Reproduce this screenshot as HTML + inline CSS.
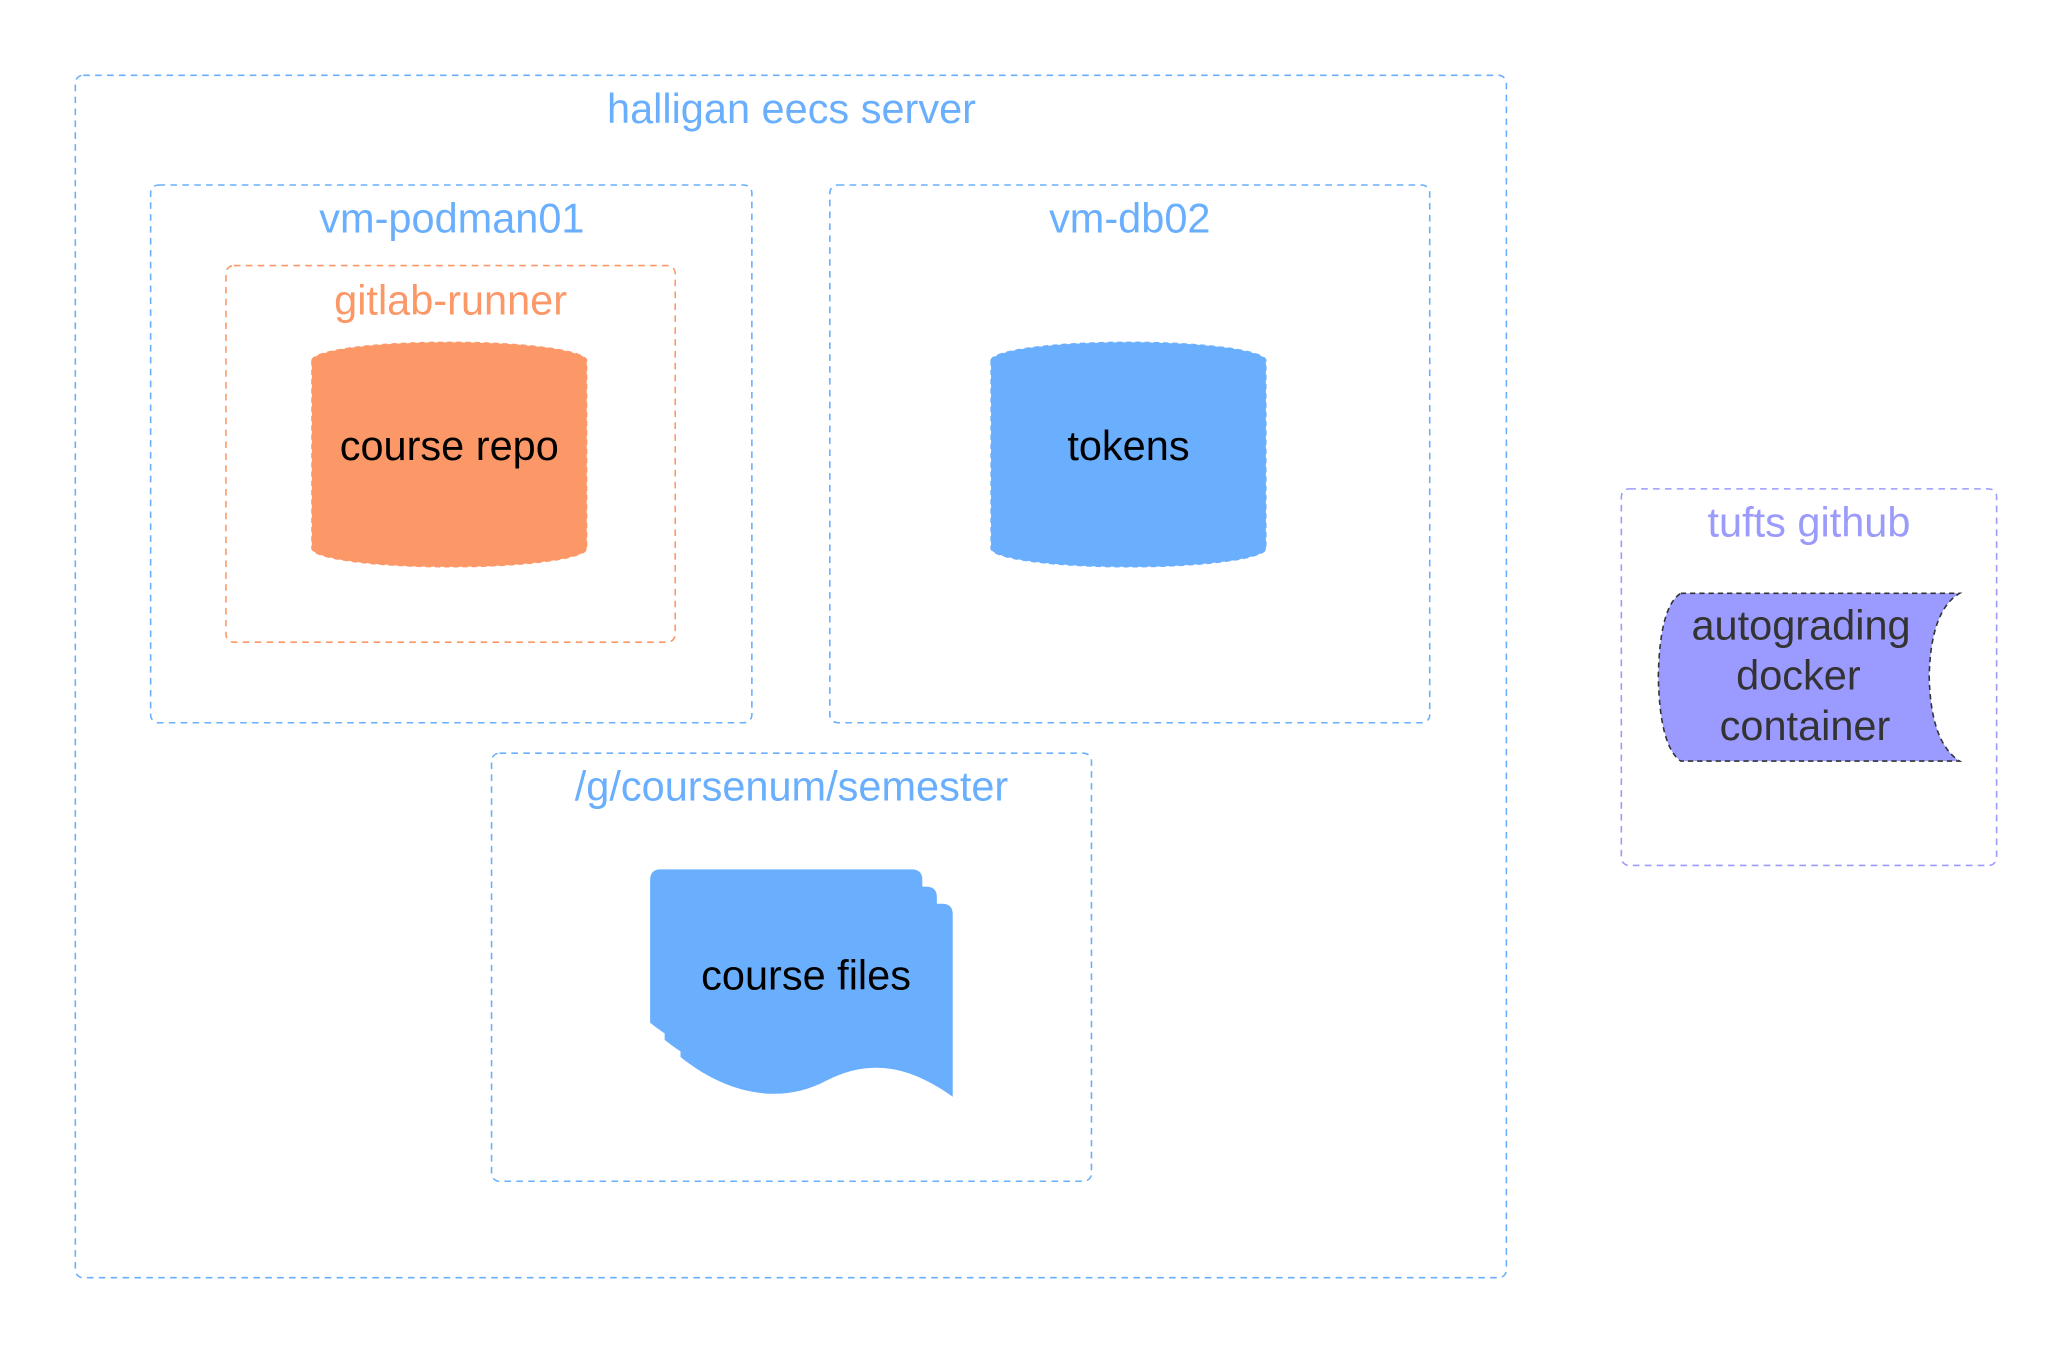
<!DOCTYPE html>
<html><head><meta charset="utf-8"><style>
html,body{margin:0;padding:0;background:#fff;}
svg{display:block;}
text{font-family:"Liberation Sans",Arial,sans-serif;}
</style></head><body>
<svg width="2064" height="1350" viewBox="0 0 1562 1021.7" preserveAspectRatio="none" xmlns="http://www.w3.org/2000/svg">
<g fill="none" stroke-width="1.2" stroke-dasharray="5 4">
<rect x="57" y="57" width="1083" height="910" rx="6" stroke="#6aaffd"/>
<rect x="114" y="140" width="455" height="407" rx="6" stroke="#6aaffd"/>
<rect x="171" y="201" width="340" height="285" rx="6" stroke="#fc9868"/>
<rect x="628" y="140" width="454" height="407" rx="6" stroke="#6aaffd"/>
<rect x="372" y="570" width="454" height="324" rx="6" stroke="#6aaffd"/>
<rect x="1227" y="370" width="284" height="285" rx="6" stroke="#9b9bfc"/>
</g>
<g font-size="31.4" text-anchor="middle">
<text x="599" y="93" fill="#6aaffd">halligan eecs server</text>
<text x="342" y="176" fill="#6aaffd">vm-podman01</text>
<text x="341" y="238" fill="#fc9868">gitlab-runner</text>
<text x="855" y="176" fill="#6aaffd">vm-db02</text>
<text x="599" y="606" fill="#6aaffd">/g/coursenum/semester</text>
<text x="1369" y="406" fill="#9b9bfc">tufts github</text>
</g>
<path d="M236,273 A104,14 0 0 1 444,273 V415 A104,14 0 0 1 236,415 Z" fill="#fc9868" stroke="#fc9868" stroke-dasharray="4 3"/>
<text x="340" y="348" font-size="31.4" text-anchor="middle" fill="#000">course repo</text>
<path d="M750,273 A104,14 0 0 1 958,273 V415 A104,14 0 0 1 750,415 Z" fill="#6aaffd" stroke="#6aaffd" stroke-dasharray="4 3"/>
<text x="854" y="348" font-size="31.4" text-anchor="middle" fill="#000">tokens</text>
<g fill="#6aaffd">
<path d="M492,666 Q492,658 500,658 H690 Q698,658 698,666 V804 C667,782 637,774 602,792 C572,808 532,806 492,774 Z"/>
<path d="M503,679 Q503,671 511,671 H701 Q709,671 709,679 V817 C678,795 648,787 613,805 C583,821 543,819 503,787 Z"/>
<path d="M515,692 Q515,684 523,684 H713 Q721,684 721,692 V830 C690,808 660,800 625,818 C595,834 555,832 515,800 Z"/>
</g>
<text x="610" y="749" font-size="31.4" text-anchor="middle" fill="#000">course files</text>
<path d="M1272,449 H1483 Q1461,462 1460,512 Q1461,562 1483,576 H1272 Q1256,565 1255,512 Q1256,459 1272,449 Z" fill="#9b9bff" stroke="#333" stroke-width="1.2" stroke-dasharray="4 3"/>
<g font-size="31.4" text-anchor="middle" fill="#333">
<text x="1363" y="484">autograding</text>
<text x="1361" y="522">docker</text>
<text x="1366" y="560">container</text>
</g>
</svg>
</body></html>
